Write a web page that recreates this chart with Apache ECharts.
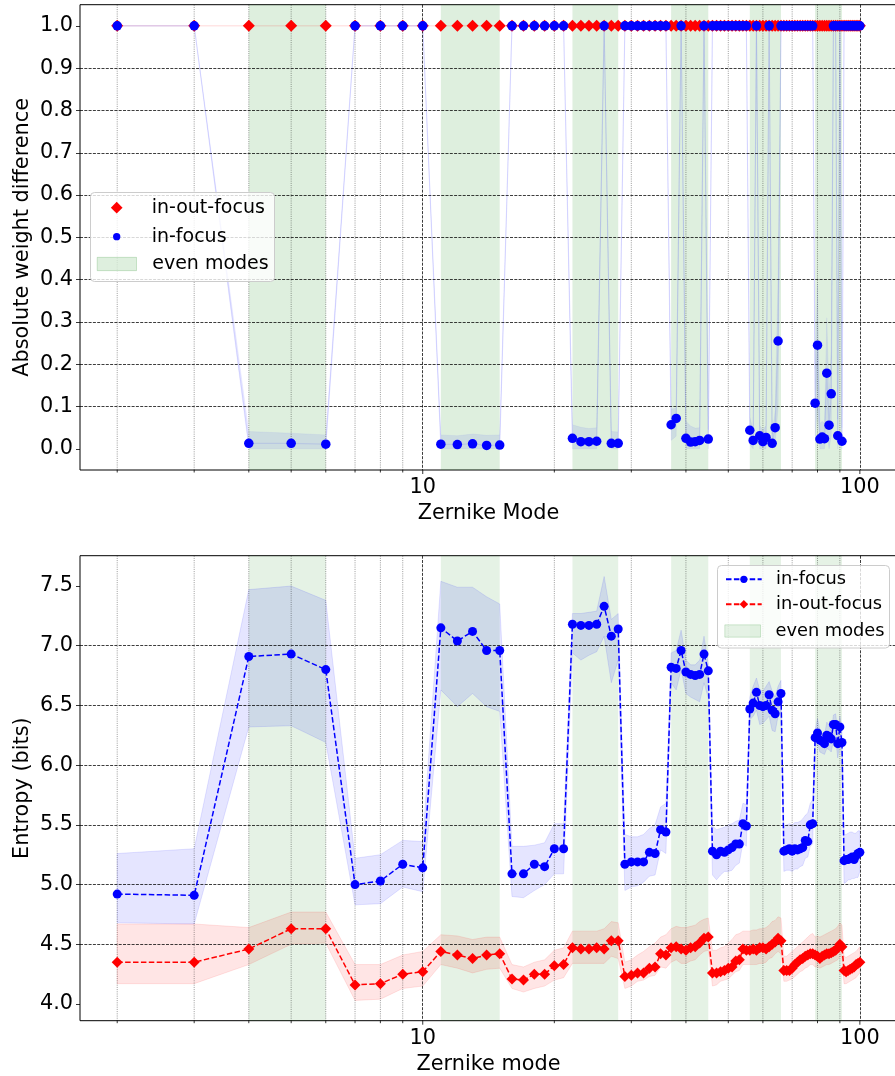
<!DOCTYPE html>
<html>
<head>
<meta charset="utf-8">
<script src="https://cdn.jsdelivr.net/npm/echarts@6/dist/echarts.min.js"></script>
<style>
  html, body { margin: 0; padding: 0; background: #ffffff; }
  #chart { width: 895px; height: 1076px; }
</style>
</head>
<body>
<div id="chart"></div>
<script>
// Zernike (Noll) mode numbers shown on both panels
const modes = [
  2, 3, 4, 5, 6, 7, 8, 9, 10, 11,
  12, 13, 14, 15, 16, 17, 18, 19, 20, 21,
  22, 23, 24, 25, 26, 27, 28, 29, 30, 31,
  32, 33, 34, 35, 36, 37, 38, 39, 40, 41,
  42, 43, 44, 45, 46, 47, 48, 49, 50, 51,
  52, 53, 54, 55, 56, 57, 58, 59, 60, 61,
  62, 63, 64, 65, 66, 67, 68, 69, 70, 71,
  72, 73, 74, 75, 76, 77, 78, 79, 80, 81,
  82, 83, 84, 85, 86, 87, 88, 89, 90, 91,
  92, 93, 94, 95, 96, 97, 98, 99, 100
];

// Ranges of modes belonging to even radial orders (n = 2, 4, ..., 12)
const evenSpans = [[4, 6], [11, 15], [22, 28], [37, 45], [56, 66], [79, 91]];

// Tick positions
const xMajorTicks = [10, 100];
const xMinorTicks = [2, 3, 4, 5, 6, 7, 8, 9, 20, 30, 40, 50, 60, 70, 80, 90];
const weightTicks = [0.0, 0.1, 0.2, 0.3, 0.4, 0.5, 0.6, 0.7, 0.8, 0.9, 1.0];
const entropyTicks = [4.0, 4.5, 5.0, 5.5, 6.0, 6.5, 7.0, 7.5];

// Upper panel: absolute weight difference
const weightInOut = [
  1, 1, 1, 1, 1, 1, 1, 1, 1, 1,
  1, 1, 1, 1, 1, 1, 1, 1, 1, 1,
  1, 1, 1, 1, 1, 1, 1, 1, 1, 1,
  1, 1, 1, 1, 1, 1, 1, 1, 1, 1,
  1, 1, 1, 1, 1, 1, 1, 1, 1, 1,
  1, 1, 1, 1, 1, 1, 1, 1, 1, 1,
  1, 1, 1, 1, 1, 1, 1, 1, 1, 1,
  1, 1, 1, 1, 1, 1, 1, 1, 1, 1,
  1, 1, 1, 1, 1, 1, 1, 1, 1, 1,
  1, 1, 1, 1, 1, 1, 1, 1, 1
];
const weightIn = [
  1, 1, 0.013, 0.013, 0.011, 1, 1, 1, 1, 0.011,
  0.010, 0.012, 0.008, 0.009, 1, 1, 1, 1, 1, 1,
  0.025, 0.017, 0.017, 0.018, 1, 0.013, 0.013, 1, 1, 1,
  1, 1, 1, 1, 1, 0.057, 0.072, 1, 0.025, 0.016,
  0.017, 0.020, 1, 0.023, 1, 1, 1, 1, 1, 1,
  1, 1, 1, 1, 0.044, 0.020, 1, 0.031, 0.017, 0.027,
  1, 0.013, 0.050, 0.255, 1, 1, 1, 1, 1, 1,
  1, 1, 1, 1, 1, 1, 1, 0.108, 0.245, 0.023,
  0.028, 0.024, 0.179, 0.056, 0.130, 1, 1, 0.031, 1, 0.018,
  1, 1, 1, 1, 1, 1, 1, 1, 1
];
const weightInLo = [
  1, 1, 0, 0, 0, 1, 1, 1, 1, 0,
  0, 0, 0, 0, 1, 1, 1, 1, 1, 1,
  0, 0, 0, 0, 1, 0, 0, 1, 1, 1,
  1, 1, 1, 1, 1, 0.02, 0.03, 1, 0, 0,
  0, 0, 1, 0, 1, 1, 1, 1, 1, 1,
  1, 1, 1, 1, 0.01, 0, 1, 0, 0, 0,
  1, 0, 0.01, 0.10, 1, 1, 1, 1, 1, 1,
  1, 1, 1, 1, 1, 1, 1, 0.03, 0.10, 0,
  0, 0, 0.05, 0, 0.03, 1, 1, 0, 1, 0,
  1, 1, 1, 1, 1, 1, 1, 1, 1
];
const weightInHi = [
  1, 1, 0.041, 0.037, 0.033, 1, 1, 1, 1, 0.033,
  0.031, 0.035, 0.032, 0.033, 1, 1, 1, 1, 1, 1,
  0.057, 0.051, 0.048, 0.050, 1, 0.041, 0.040, 1, 1, 1,
  1, 1, 1, 1, 1, 0.094, 0.096, 1, 0.065, 0.054,
  0.049, 0.050, 1, 0.045, 1, 1, 1, 1, 1, 1,
  1, 1, 1, 1, 0.076, 0.045, 1, 0.055, 0.045, 0.055,
  1, 0.035, 0.090, 0.41, 1, 1, 1, 1, 1, 1,
  1, 1, 1, 1, 1, 1, 1, 0.19, 0.39, 0.06,
  0.065, 0.06, 0.31, 0.13, 0.23, 1, 1, 0.07, 1, 0.05,
  1, 1, 1, 1, 1, 1, 1, 1, 1
];

// Lower panel: entropy in bits, with the shaded spread around each curve
const entropyIn = [
  4.92, 4.91, 6.91, 6.93, 6.80, 5.00, 5.03, 5.17, 5.14, 7.15,
  7.04, 7.12, 6.96, 6.96, 5.09, 5.09, 5.17, 5.15, 5.30, 5.30,
  7.18, 7.17, 7.17, 7.18, 7.33, 7.08, 7.14, 5.17, 5.19, 5.19,
  5.19, 5.27, 5.26, 5.46, 5.44, 6.82, 6.81, 6.96, 6.78, 6.76,
  6.75, 6.76, 6.93, 6.79, 5.28, 5.25, 5.28, 5.27, 5.29, 5.31,
  5.34, 5.34, 5.51, 5.49, 6.47, 6.52, 6.61, 6.50, 6.49, 6.50,
  6.59, 6.46, 6.43, 6.53, 6.60, 5.28, 5.29, 5.30, 5.28, 5.30,
  5.29, 5.30, 5.31, 5.37, 5.36, 5.50, 5.51, 6.23, 6.27, 6.21,
  6.20, 6.18, 6.25, 6.24, 6.22, 6.34, 6.34, 6.18, 6.32, 6.19,
  5.20, 5.21, 5.21, 5.22, 5.23, 5.21, 5.24, 5.26, 5.27
];
const entropyInLo = [
  4.68, 4.67, 6.32, 6.33, 6.19, 4.83, 4.84, 4.98, 4.94, 6.63,
  6.49, 6.60, 6.49, 6.45, 4.90, 4.89, 4.95, 5.00, 5.09, 5.09,
  6.94, 6.88, 6.92, 6.95, 7.08, 6.69, 6.88, 4.95, 4.98, 4.99,
  5.02, 5.07, 5.08, 5.29, 5.26, 6.69, 6.63, 6.80, 6.60, 6.57,
  6.55, 6.53, 6.69, 6.56, 5.08, 5.04, 5.08, 5.11, 5.11, 5.12,
  5.16, 5.18, 5.35, 5.32, 6.38, 6.41, 6.46, 6.34, 6.35, 6.38,
  6.41, 6.29, 6.28, 6.41, 6.46, 5.11, 5.12, 5.12, 5.11, 5.13,
  5.13, 5.15, 5.16, 5.22, 5.23, 5.32, 5.34, 6.15, 6.18, 6.11,
  6.10, 6.09, 6.14, 6.13, 6.11, 6.21, 6.22, 6.06, 6.18, 6.07,
  5.01, 5.02, 5.04, 5.04, 5.05, 5.05, 5.06, 5.06, 5.11
];
const entropyInHi = [
  5.26, 5.30, 7.47, 7.50, 7.38, 5.22, 5.25, 5.37, 5.36, 7.54,
  7.49, 7.49, 7.41, 7.35, 5.32, 5.32, 5.33, 5.35, 5.51, 5.51,
  7.27, 7.27, 7.28, 7.29, 7.58, 7.22, 7.27, 5.42, 5.40, 5.40,
  5.42, 5.47, 5.50, 5.65, 5.68, 6.94, 6.96, 7.13, 6.88, 6.84,
  6.84, 6.88, 7.08, 6.85, 5.49, 5.46, 5.47, 5.48, 5.50, 5.51,
  5.53, 5.54, 5.68, 5.67, 6.57, 6.66, 6.73, 6.63, 6.62, 6.66,
  6.70, 6.62, 6.57, 6.66, 6.71, 5.49, 5.50, 5.51, 5.50, 5.52,
  5.52, 5.53, 5.55, 5.58, 5.60, 5.68, 5.71, 6.29, 6.39, 6.29,
  6.27, 6.25, 6.36, 6.34, 6.28, 6.42, 6.43, 6.29, 6.41, 6.28,
  5.42, 5.42, 5.43, 5.44, 5.44, 5.43, 5.43, 5.45, 5.45
];
const entropyInOut = [
  4.35, 4.35, 4.46, 4.63, 4.63, 4.16, 4.17, 4.25, 4.27, 4.44,
  4.41, 4.38, 4.41, 4.42, 4.21, 4.20, 4.25, 4.25, 4.32, 4.33,
  4.47, 4.46, 4.46, 4.47, 4.46, 4.53, 4.53, 4.23, 4.24, 4.26,
  4.26, 4.30, 4.31, 4.42, 4.41, 4.47, 4.48, 4.46, 4.45, 4.47,
  4.48, 4.51, 4.55, 4.56, 4.26, 4.26, 4.27, 4.28, 4.30, 4.31,
  4.36, 4.37, 4.46, 4.45, 4.45, 4.46, 4.45, 4.47, 4.47, 4.46,
  4.48, 4.50, 4.52, 4.55, 4.53, 4.28, 4.28, 4.28, 4.30, 4.33,
  4.35, 4.37, 4.38, 4.40, 4.41, 4.42, 4.42, 4.41, 4.40, 4.38,
  4.40, 4.41, 4.42, 4.42, 4.43, 4.44, 4.45, 4.47, 4.50, 4.48,
  4.28, 4.27, 4.28, 4.29, 4.30, 4.31, 4.33, 4.34, 4.35
];
const entropyInOutLo = [
  4.17, 4.17, 4.33, 4.50, 4.51, 4.03, 4.04, 4.13, 4.15, 4.33,
  4.30, 4.26, 4.29, 4.30, 4.13, 4.10, 4.13, 4.15, 4.20, 4.22,
  4.34, 4.34, 4.34, 4.34, 4.34, 4.40, 4.38, 4.13, 4.15, 4.19,
  4.20, 4.23, 4.24, 4.31, 4.30, 4.35, 4.37, 4.34, 4.34, 4.36,
  4.37, 4.41, 4.44, 4.45, 4.15, 4.16, 4.19, 4.20, 4.21, 4.24,
  4.27, 4.28, 4.33, 4.33, 4.33, 4.33, 4.33, 4.34, 4.34, 4.35,
  4.38, 4.39, 4.42, 4.44, 4.42, 4.19, 4.19, 4.20, 4.21, 4.23,
  4.25, 4.27, 4.28, 4.30, 4.31, 4.33, 4.33, 4.31, 4.31, 4.30,
  4.31, 4.32, 4.33, 4.33, 4.34, 4.35, 4.36, 4.37, 4.40, 4.39,
  4.17, 4.17, 4.18, 4.19, 4.20, 4.21, 4.22, 4.24, 4.26
];
const entropyInOutHi = [
  4.67, 4.67, 4.64, 4.77, 4.77, 4.33, 4.33, 4.41, 4.44, 4.58,
  4.57, 4.54, 4.56, 4.56, 4.33, 4.31, 4.35, 4.37, 4.45, 4.47,
  4.61, 4.61, 4.61, 4.61, 4.63, 4.69, 4.68, 4.35, 4.37, 4.41,
  4.44, 4.48, 4.51, 4.56, 4.58, 4.63, 4.65, 4.64, 4.64, 4.65,
  4.66, 4.69, 4.71, 4.72, 4.45, 4.45, 4.47, 4.48, 4.51, 4.54,
  4.58, 4.59, 4.61, 4.61, 4.61, 4.62, 4.62, 4.63, 4.63, 4.64,
  4.66, 4.69, 4.70, 4.73, 4.72, 4.40, 4.40, 4.42, 4.44, 4.46,
  4.48, 4.50, 4.52, 4.54, 4.56, 4.58, 4.59, 4.56, 4.57, 4.56,
  4.57, 4.58, 4.59, 4.60, 4.61, 4.62, 4.63, 4.65, 4.68, 4.66,
  4.40, 4.39, 4.40, 4.41, 4.42, 4.43, 4.44, 4.46, 4.48
];

// ---------------------------------------------------------------------------
const FONT = 'DejaVu Sans';
const TICK_FS = 20.8;
const X_MIN = 1.644, X_MAX = 121.6;          // log-axis limits with a small margin
const GRID_DASH = { color: 'rgba(0,0,0,0.85)', width: 0.9, type: [3, 1.3] };
const MINOR_GRID = { stroke: 'rgba(0,0,0,0.5)', lineWidth: 0.8, lineDash: [1, 1.2] };
const BLUE = '#0000ff', RED = '#ff0000';

const chart = echarts.init(document.getElementById('chart'), null, { renderer: 'canvas' });

function xAxisCfg(gi, title) {
  return {
    type: 'log', logBase: 10, gridIndex: gi, min: X_MIN, max: X_MAX, z: 1,
    name: title, nameLocation: 'middle', nameGap: 33, nameMoveOverlap: false,
    nameTextStyle: { fontFamily: FONT, fontSize: TICK_FS, color: '#000' },
    axisLine: { show: false },
    axisTick: { show: false },
    axisLabel: {
      fontFamily: FONT, fontSize: TICK_FS, color: '#000', margin: 7,
      showMinLabel: false, showMaxLabel: false,
      formatter: v => (xMajorTicks.some(t => Math.abs(t - v) < 1e-6) ? String(Math.round(v)) : '')
    },
    splitLine: { show: true, showMinLine: false, showMaxLine: false, lineStyle: GRID_DASH },
    minorTick: { show: false }, minorSplitLine: { show: false }
  };
}

function yAxisCfg(gi, title, min, max, splitNumber, ticks) {
  return {
    type: 'value', gridIndex: gi, min, max, splitNumber, z: 1,
    name: title, nameLocation: 'middle', nameGap: 47, nameRotate: 90, nameMoveOverlap: false,
    nameTextStyle: { fontFamily: FONT, fontSize: TICK_FS, color: '#000' },
    axisLine: { show: false },
    axisTick: { show: true, length: 4, customValues: ticks, lineStyle: { color: '#000', width: 0.8 } },
    axisLabel: {
      fontFamily: FONT, fontSize: TICK_FS, color: '#000', margin: 7,
      customValues: ticks, formatter: v => Number(v).toFixed(1)
    },
    splitLine: { show: true, showMinLine: false, showMaxLine: false, lineStyle: GRID_DASH }
  };
}

// shaded columns marking the even radial orders
function evenModeSeries(gi, yRef, fill) {
  return {
    type: 'custom', name: 'even modes', xAxisIndex: gi, yAxisIndex: gi, z: 0, silent: true,
    data: evenSpans.map(s => [s[0], s[1]]),
    renderItem(params, api) {
      const cs = params.coordSys;
      const x1 = api.coord([api.value(0), yRef])[0];
      const x2 = api.coord([api.value(1), yRef])[0];
      return {
        type: 'rect',
        shape: { x: x1, y: cs.y, width: x2 - x1, height: cs.height },
        style: { fill: fill }
      };
    }
  };
}

// filled spread between lower and upper curves, drawn as one polygon
function bandSeries(gi, lo, hi, fill, edgeWidth) {
  return {
    type: 'custom', xAxisIndex: gi, yAxisIndex: gi, z: 0, silent: true,
    data: modes.map((m, i) => [m, lo[i], hi[i]]),
    renderItem(params, api) {
      if (params.dataIndex !== 0) return;
      const upper = modes.map((m, i) => api.coord([m, hi[i]]));
      const lower = modes.map((m, i) => api.coord([m, lo[i]])).reverse();
      return {
        type: 'polygon',
        shape: { points: upper.concat(lower) },
        style: { fill: fill, stroke: fill, lineWidth: edgeWidth }
      };
    }
  };
}

// dotted minor grid lines with their small ticks, plus the major ticks
function xTickSeries(gi, yRef, values, isMinor) {
  return {
    type: 'custom', xAxisIndex: gi, yAxisIndex: gi, z: 1, silent: true,
    data: values.map(v => [v, yRef]),
    renderItem(params, api) {
      const cs = params.coordSys;
      const x = api.coord([api.value(0), yRef])[0];
      const bottom = cs.y + cs.height;
      const children = [{
        type: 'line',
        shape: { x1: x, y1: bottom, x2: x, y2: bottom + (isMinor ? 2.5 : 4) },
        style: { stroke: '#000', lineWidth: 0.8 }
      }];
      if (isMinor) {
        children.push({
          type: 'line',
          shape: { x1: x, y1: cs.y, x2: x, y2: bottom },
          style: MINOR_GRID
        });
      }
      return { type: 'group', children };
    }
  };
}

function pairs(ys) { return modes.map((m, i) => [m, ys[i]]); }

const dashed = [5.5, 2.4];

const series = [
  // ---- lower panel (listed first so its legend picks these styles)
  {
    type: 'line', name: 'in-focus', xAxisIndex: 1, yAxisIndex: 1, z: 3,
    data: pairs(entropyIn), symbol: 'circle', symbolSize: 9, showAllSymbol: true,
    itemStyle: { color: BLUE, borderWidth: 0 },
    lineStyle: { color: BLUE, width: 1.5, type: dashed },
    emphasis: { disabled: true }
  },
  {
    type: 'line', name: 'in-out-focus', xAxisIndex: 1, yAxisIndex: 1, z: 3,
    data: pairs(entropyInOut), symbol: 'diamond', symbolSize: 11, showAllSymbol: true,
    itemStyle: { color: RED, borderWidth: 0 },
    lineStyle: { color: RED, width: 1.5, type: dashed },
    emphasis: { disabled: true }
  },
  evenModeSeries(1, 5, 'rgba(0,128,0,0.10)'),
  bandSeries(1, entropyInLo, entropyInHi, 'rgba(0,0,255,0.10)', 1),
  bandSeries(1, entropyInOutLo, entropyInOutHi, 'rgba(255,0,0,0.10)', 1),
  xTickSeries(1, 5, xMinorTicks, true),
  xTickSeries(1, 5, xMajorTicks, false),

  // ---- upper panel
  evenModeSeries(0, 0.5, 'rgba(0,128,0,0.13)'),
  bandSeries(0, weightInLo, weightInHi, 'rgba(0,0,255,0.08)', 0.6),
  xTickSeries(0, 0.5, xMinorTicks, true),
  xTickSeries(0, 0.5, xMajorTicks, false),
  {
    type: 'line', name: 'in-out-focus', xAxisIndex: 0, yAxisIndex: 0, z: 3,
    data: pairs(weightInOut), symbol: 'diamond', symbolSize: 12, showAllSymbol: true,
    itemStyle: { color: RED, borderWidth: 0 },
    lineStyle: { color: 'rgba(255,0,0,0.10)', width: 1.5 },
    emphasis: { disabled: true }
  },
  {
    type: 'line', name: 'in-focus', xAxisIndex: 0, yAxisIndex: 0, z: 4,
    data: pairs(weightIn), symbol: 'circle', symbolSize: 9.5, showAllSymbol: true,
    itemStyle: { color: BLUE, borderWidth: 0 },
    lineStyle: { color: 'rgba(0,0,255,0.09)', width: 1.2 },
    emphasis: { disabled: true }
  }
];

// one legend component per entry so each icon can have its own size
function legendEntry(name, o) {
  const lh = 20;
  const h = Math.max(o.h, lh);
  const item = { name };
  if (o.icon) item.icon = o.icon;
  item.itemStyle = Object.assign({ borderWidth: 0 }, o.itemStyle || {});
  return {
    data: [item], orient: 'vertical', left: o.left, top: o.cy - h / 2, padding: 0, z: 7,
    itemWidth: o.w, itemHeight: o.h, selectedMode: false,
    textStyle: { fontFamily: FONT, fontSize: o.fs, color: '#000', lineHeight: lh, padding: [0, 0, 0, o.pad] }
  };
}

const legends = [
  // upper panel
  legendEntry('in-out-focus', { icon: 'diamond', w: 11.7, h: 11.7, left: 110.85, cy: 207.7, fs: 19, pad: 24.1, itemStyle: { color: RED } }),
  legendEntry('in-focus', { icon: 'circle', w: 7.3, h: 7.3, left: 113.05, cy: 236.7, fs: 19, pad: 26.3, itemStyle: { color: BLUE } }),
  legendEntry('even modes', { icon: 'rect', w: 39.3, h: 13.3, left: 96.7, cy: 264, fs: 19, pad: 10.7,
    itemStyle: { color: 'rgba(0,128,0,0.13)', borderColor: 'rgba(0,128,0,0.18)', borderWidth: 1 } }),
  // lower panel
  legendEntry('in-focus', { w: 35.7, h: 9, left: 725, cy: 579.3, fs: 17.8, pad: 9.3 }),
  legendEntry('in-out-focus', { w: 35.7, h: 10.5, left: 725, cy: 604.3, fs: 17.8, pad: 9.3 }),
  legendEntry('even modes', { icon: 'rect', w: 35.7, h: 12.3, left: 724.3, cy: 631, fs: 17.8, pad: 10,
    itemStyle: { color: 'rgba(0,128,0,0.10)', borderColor: 'rgba(0,128,0,0.16)', borderWidth: 1 } })
];

const option = {
  animation: false,
  backgroundColor: '#ffffff',
  grid: [
    { left: 80, top: 4.7, width: 817, height: 465.3, show: true, borderColor: '#000', borderWidth: 1,
      backgroundColor: 'transparent', containLabel: false, outerBoundsMode: 'none' },
    { left: 80, top: 555.7, width: 817, height: 465, show: true, borderColor: '#000', borderWidth: 1,
      backgroundColor: 'transparent', containLabel: false, outerBoundsMode: 'none' }
  ],
  xAxis: [xAxisCfg(0, 'Zernike Mode'), xAxisCfg(1, 'Zernike mode')],
  yAxis: [
    yAxisCfg(0, 'Absolute weight difference', -0.05, 1.05, 11, weightTicks),
    yAxisCfg(1, 'Entropy (bits)', 3.86, 7.754, 8, entropyTicks)
  ],
  legend: legends,
  graphic: [
    { type: 'rect', z: 6, silent: true, shape: { x: 90.5, y: 192.5, width: 184, height: 89, r: 4 },
      style: { fill: 'rgba(255,255,255,0.8)', stroke: '#cccccc', lineWidth: 1 } },
    { type: 'rect', z: 6, silent: true, shape: { x: 717.5, y: 565.5, width: 172, height: 82.5, r: 4 },
      style: { fill: 'rgba(255,255,255,0.8)', stroke: '#cccccc', lineWidth: 1 } }
  ],
  series
};

chart.setOption(option);
</script>
</body>
</html>
